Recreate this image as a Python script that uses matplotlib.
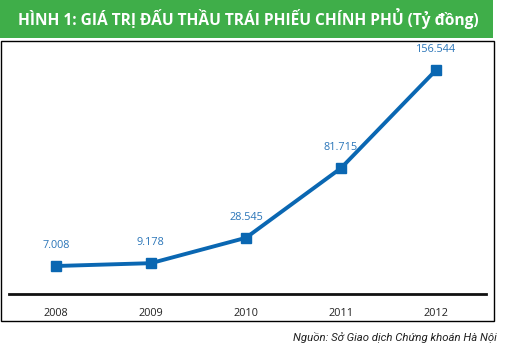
import matplotlib
matplotlib.use("Agg")
import matplotlib.pyplot as plt
from matplotlib.patches import Rectangle

years = [2008, 2009, 2010, 2011, 2012]
values = [7008, 9178, 28545, 81715, 156544]
labels = ["7.008", "9.178", "28.545", "81.715", "156.544"]
title = "HÌNH 1: GIÁ TRỊ ĐẤU THẦU TRÁI PHIẾU CHÍNH PHỦ (Tỷ đồng)"
source = "Nguồn: Sở Giao dịch Chứng khoán Hà Nội"

W, H = 510, 353
fig = plt.figure(figsize=(W / 100, H / 100), dpi=100)
fig.patch.set_facecolor("white")

def fx(px):
    return px / W

def fy(py):
    return 1 - py / H

# green header
fig.patches.append(Rectangle((fx(0), fy(38)), fx(493), 38 / H, transform=fig.transFigure,
                             facecolor="#3fae49", edgecolor="none", zorder=0))
fig.text(fx(248), fy(19), title, color="white", fontsize=11.2, fontweight="bold",
         family="Open Sans", ha="center", va="center")

# box border
fig.patches.append(Rectangle((fx(1), fy(321)), fx(493), (321 - 41) / H, transform=fig.transFigure,
                             facecolor="none", edgecolor="black", linewidth=1.0, zorder=0))

ax = fig.add_axes([fx(9), fy(294), fx(486 - 9), (294 - 42) / H])
ax.set_facecolor("none")
ax.plot(years, values, color="#0a67b2", linewidth=2.8, marker="s", markersize=7.5,
        solid_capstyle="butt")
for x, v, t in zip(years, values, labels):
    ax.annotate(t, (x, v), xytext=(0, 11), textcoords="offset points", ha="center", va="bottom",
                color="#2a75b8", fontsize=7.8, family="Open Sans")

ax.set_xlim(2007.507, 2012.525)
ax.set_ylim(-14340, 177900)
for s in ["left", "right", "top"]:
    ax.spines[s].set_visible(False)
ax.spines["bottom"].set_linewidth(2.0)
ax.spines["bottom"].set_color("#111111")
ax.set_yticks([])
ax.set_xticks(years)
ax.set_xticklabels([str(y) for y in years])
ax.tick_params(axis="x", length=0, pad=10, labelsize=7.8, labelcolor="#222222")
for lab in ax.get_xticklabels():
    lab.set_family("Open Sans")

fig.text(fx(497), fy(338), source, ha="right", va="center", fontsize=8.2,
         style="italic", family="Roboto", color="#222222")

fig.savefig("out.png", dpi=100)
